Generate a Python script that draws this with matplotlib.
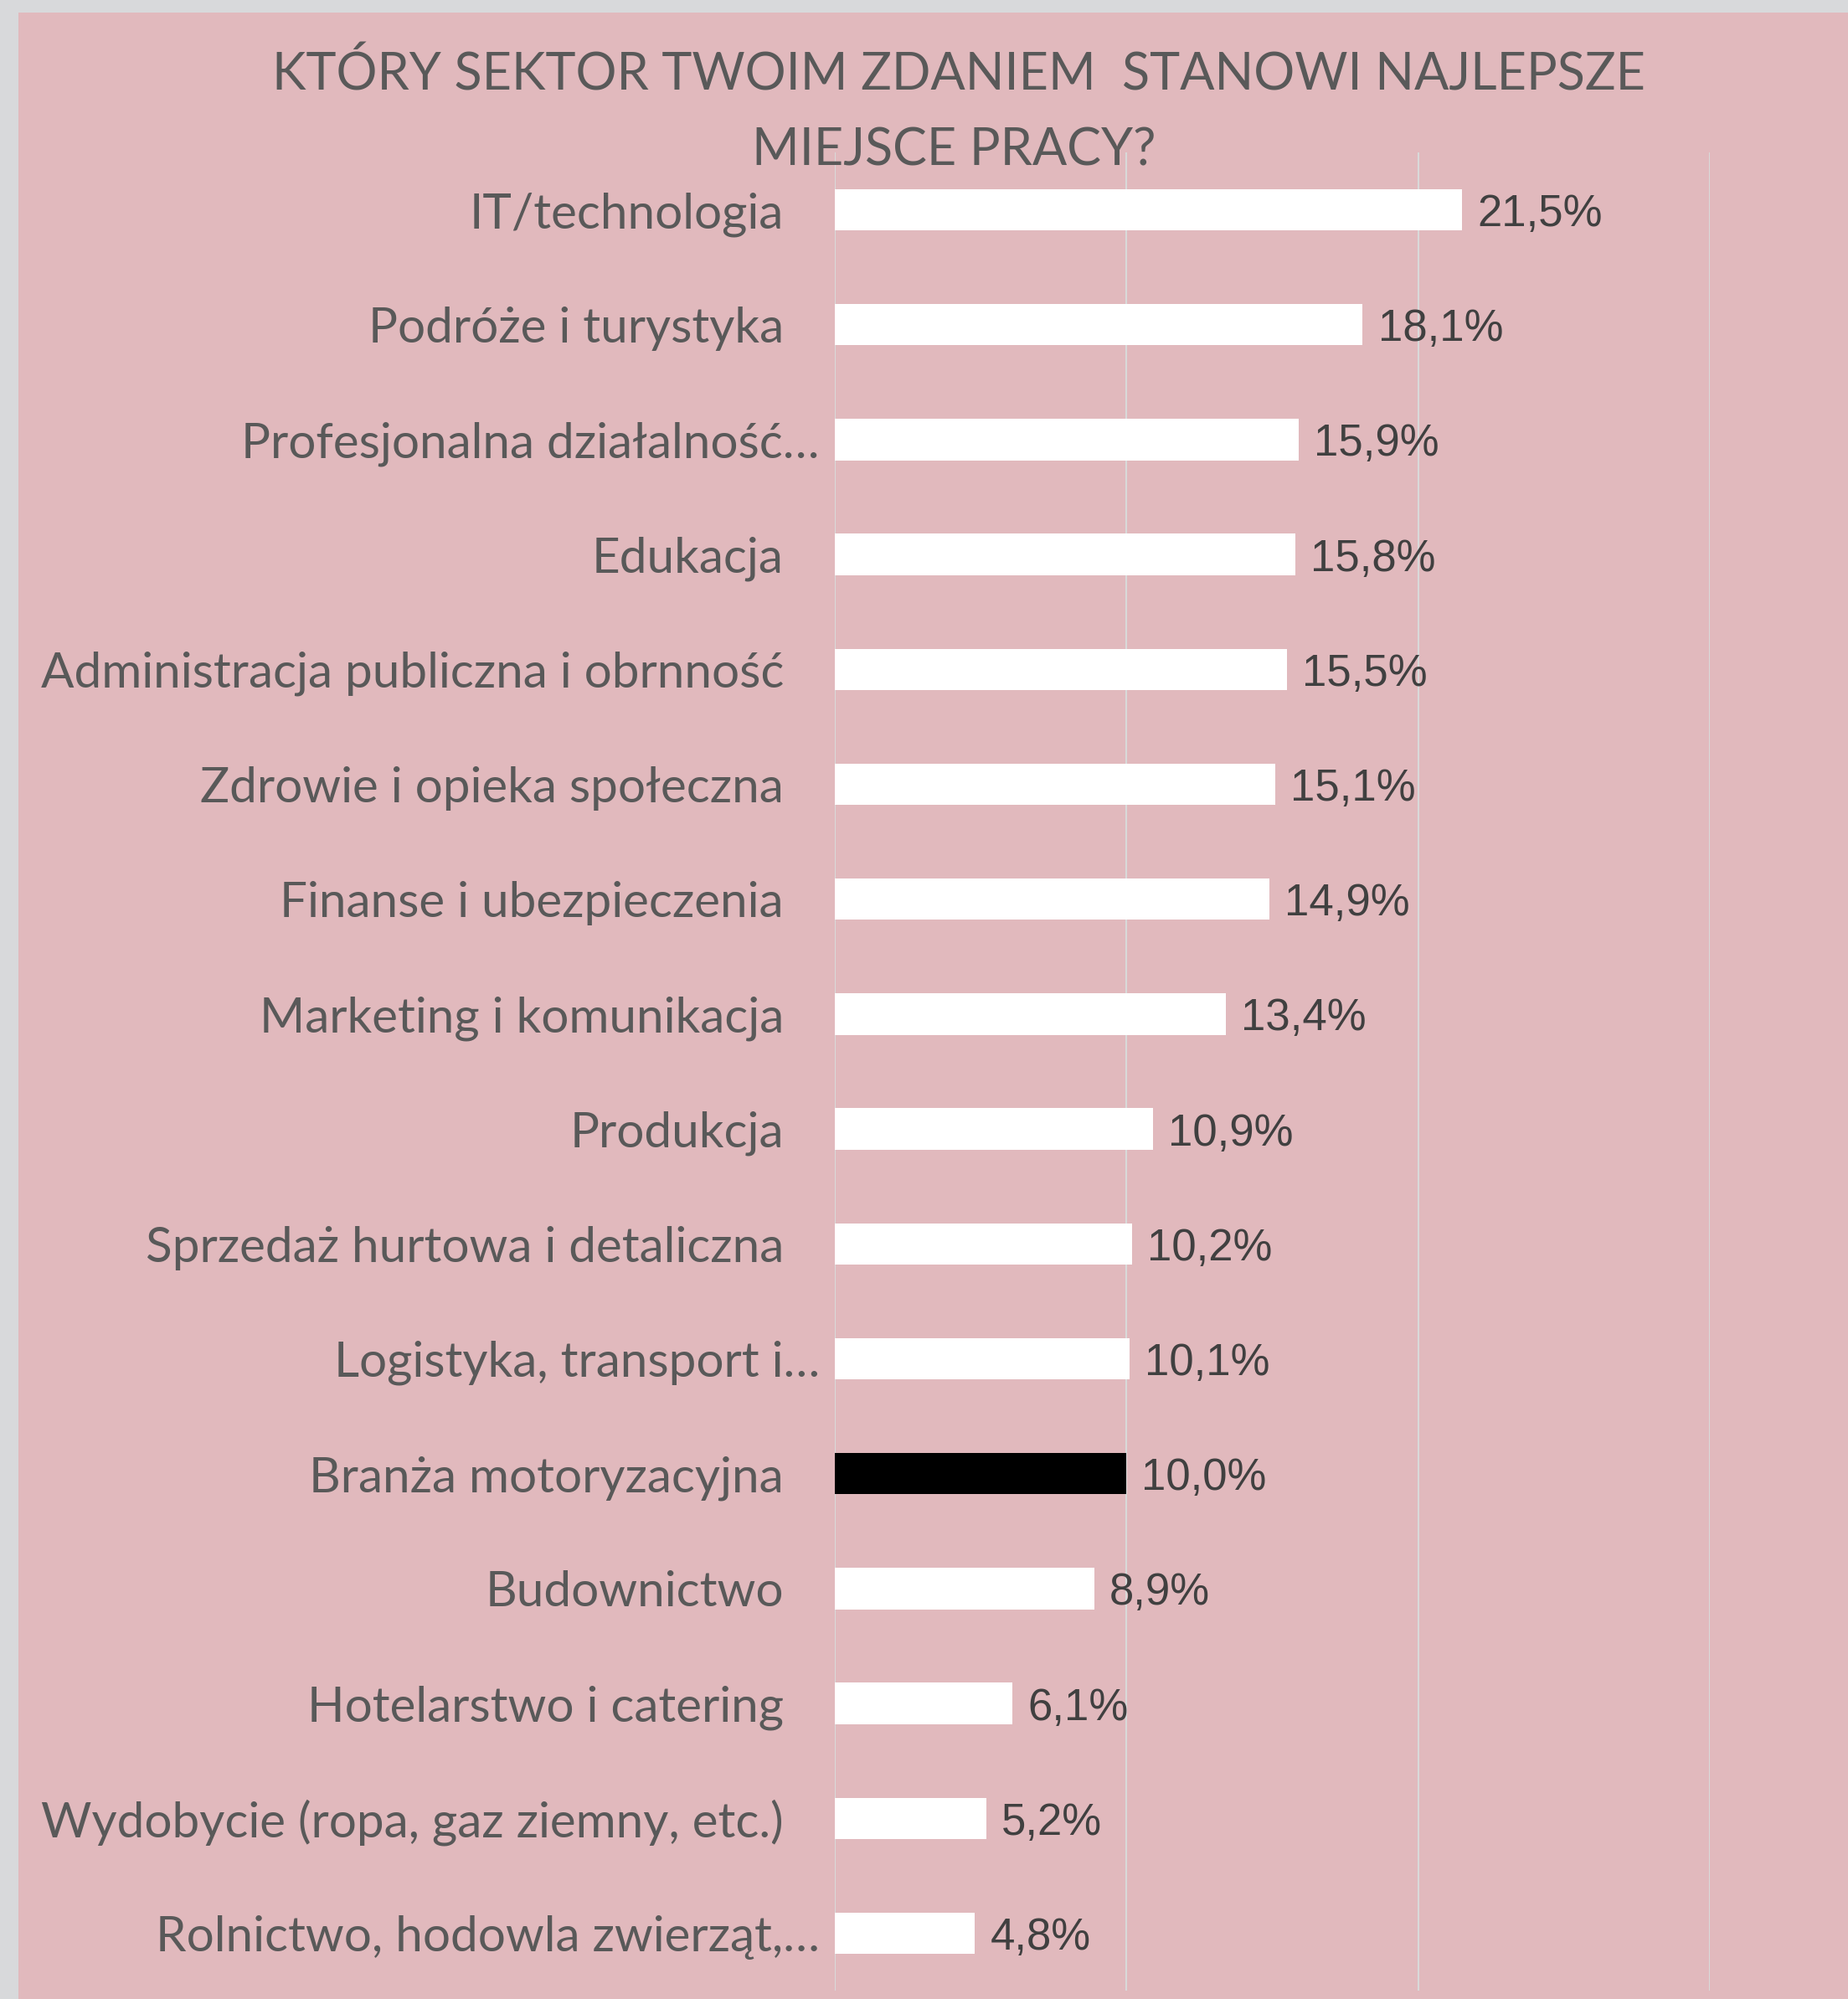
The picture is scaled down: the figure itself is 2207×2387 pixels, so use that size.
import matplotlib.pyplot as plt
from matplotlib.patches import Rectangle
from matplotlib.transforms import ScaledTranslation

# data (top to bottom)
sectors = [
    "IT/technologia",
    "Podróże i turystyka",
    "Profesjonalna działalność…",
    "Edukacja",
    "Administracja publiczna i obrnność",
    "Zdrowie i opieka społeczna",
    "Finanse i ubezpieczenia",
    "Marketing i komunikacja",
    "Produkcja",
    "Sprzedaż hurtowa i detaliczna",
    "Logistyka, transport i…",
    "Branża motoryzacyjna",
    "Budownictwo",
    "Hotelarstwo i catering",
    "Wydobycie (ropa, gaz ziemny, etc.)",
    "Rolnictwo, hodowla zwierząt,…",
]
shares = [21.5, 18.1, 15.9, 15.8, 15.5, 15.1, 14.9, 13.4, 10.9, 10.2, 10.1, 10.0, 8.9, 6.1, 5.2, 4.8]
highlight = "Branża motoryzacyjna"

PINK = "#e1b9bd"
GRAY = "#d8d9db"
TEXT = "#595959"

W, H = 2207, 2387
fig = plt.figure(figsize=(W / 100, H / 100), dpi=100, facecolor=GRAY)
bg = Rectangle((22 / W, 0), 1 - 22 / W, 1 - 15 / H, transform=fig.transFigure,
               facecolor=PINK, edgecolor="none", zorder=-10)
fig.patches.append(bg)

ax = fig.add_axes([997 / W, 1 - 2377 / H, (2042 - 997) / W, (2377 - 182) / H])
ax.set_facecolor("none")
ax.set_zorder(2)

ypos = list(range(len(sectors)))
colors = ["black" if s == highlight else "white" for s in sectors]
ax.barh(ypos, shares, height=0.36, color=colors, zorder=3)

# value labels, decimal comma
for y, v in zip(ypos, shares):
    ax.annotate(f"{v:.1f}%".replace(".", ","), (v, y), xytext=(13, 0),
                textcoords="offset points", ha="left", va="center_baseline",
                fontsize=38, family="Liberation Sans", color="#404040")

ax.set_xlim(0, 30)
ax.set_ylim(len(sectors) - 0.5, -0.5)
ax.set_xticks([0, 10, 20, 30])
ax.set_xticklabels([])
ax.grid(axis="x", color="#d9d9d9", linewidth=1.5, zorder=1)
for sp in ax.spines.values():
    sp.set_visible(False)

ax.set_yticks(ypos)
ax.set_yticklabels(sectors, fontsize=42, family="Lato", color=TEXT)
ax.tick_params(axis="both", length=0, pad=44)

# truncated labels sit closer to the axis in the original
shift = ScaledTranslation(0.43, 0, fig.dpi_scale_trans)
for lbl in ax.get_yticklabels():
    if lbl.get_text().endswith("…"):
        lbl.set_transform(lbl.get_transform() + shift)

fig.text(0.519, 1 - 107 / H, "KTÓRY SEKTOR TWOIM ZDANIEM  STANOWI NAJLEPSZE",
         ha="center", va="baseline", fontsize=44, family="Lato", color=TEXT)
fig.text(0.516, 1 - 198 / H, "MIEJSCE PRACY?",
         ha="center", va="baseline", fontsize=44, family="Lato", color=TEXT)

fig.savefig("out.png", dpi=100, facecolor=GRAY)
